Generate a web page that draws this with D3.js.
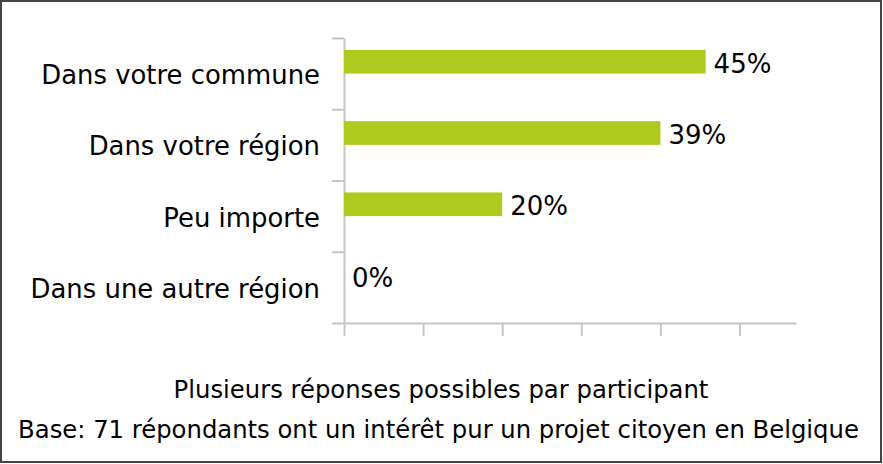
<!DOCTYPE html>
<html>
<head>
<meta charset="utf-8">
<script src="https://cdn.jsdelivr.net/npm/d3@7"></script>
<style>
	body { margin:0; background:#fff; }
	text { font-family:"DejaVu Sans", sans-serif; fill:#000; }
</style>
</head>
<body>
<div id="chart"></div>
<script>
// answers, in order from top to bottom
var categories = ["Dans votre commune", "Dans votre région", "Peu importe", "Dans une autre région"];
// number of respondents (out of 71) for each answer
var counts = [32, 28, 14, 0];
var valueLabels = ["45%", "39%", "20%", "0%"];
var xTicks = [0, 7, 14, 21, 28, 35];
var notes = [
	"Plusieurs réponses possibles par participant",
	"Base: 71 répondants ont un intérêt pur un projet citoyen en Belgique"
];

var width = 883, height = 464;
var barColor = "#afca1f", axisColor = "#c6c6c6";

var svg = d3.select("#chart")
	.append("svg")
	.attr("width", width)
	.attr("height", height)
	.style("display", "block");

svg.append("rect")
	.attr("x", 1).attr("y", 1)
	.attr("width", 880).attr("height", 461)
	.attr("fill", "#fff")
	.attr("stroke", "#444")
	.attr("stroke-width", 2);

var x = d3.scaleLinear().domain([0, 40]).range([344, 796]);
var y = d3.scaleBand().domain(categories).range([38, 323]);
// same span, used only for the tick marks between the categories
var yEdges = d3.scaleLinear().domain([0, categories.length]).range([38, 323]);
var barH = 23.7;

// left axis, ticks sit between categories
var left = svg.append("g")
	.attr("transform", "translate(344,0)")
	.call(d3.axisLeft(yEdges).tickValues(d3.range(categories.length + 1)).tickSize(12).tickSizeOuter(0).tickFormat(""));

// bottom axis
var bottom = svg.append("g")
	.attr("transform", "translate(0,323)")
	.call(d3.axisBottom(x).tickValues(xTicks).tickSize(13).tickSizeOuter(0).tickFormat(""));

[left, bottom].forEach(function(g){
	g.selectAll("path, line").attr("stroke", axisColor).attr("stroke-width", 2);
});

svg.selectAll(".bar")
	.data(counts)
	.enter().append("rect")
	.attr("class", "bar")
	.attr("x", x(0))
	.attr("y", function(d, i){ return y(categories[i]) + y.bandwidth() / 2 - barH; })
	.attr("width", function(d){ return x(d) - x(0); })
	.attr("height", barH)
	.attr("fill", barColor);

svg.selectAll(".value")
	.data(counts)
	.enter().append("text")
	.attr("class", "value")
	.attr("x", function(d){ return x(d) + 8; })
	.attr("y", function(d, i){ return y(categories[i]) + y.bandwidth() / 2 - barH / 2 + 11; })
	.style("font-size", "26px")
	.text(function(d, i){ return valueLabels[i]; });

svg.selectAll(".cat")
	.data(categories)
	.enter().append("text")
	.attr("class", "cat")
	.attr("x", 320)
	.attr("y", function(d){ return y(d) + y.bandwidth() / 2 + 10.5; })
	.attr("text-anchor", "end")
	.style("font-size", "25.9px")
	.text(function(d){ return d; });

svg.selectAll(".note")
	.data(notes)
	.enter().append("text")
	.attr("class", "note")
	.attr("x", function(d, i){ return i == 0 ? 441 : 438.5; })
	.attr("y", function(d, i){ return i == 0 ? 398 : 438; })
	.attr("text-anchor", "middle")
	.style("font-size", "24.3px")
	.text(function(d){ return d; });
</script>
</body>
</html>
